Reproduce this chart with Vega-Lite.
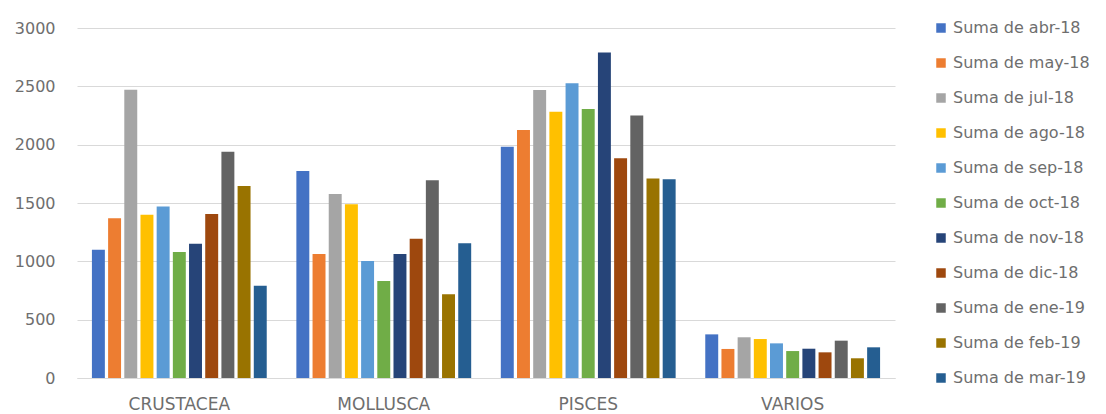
{
  "$schema": "https://vega.github.io/schema/vega-lite/v6.json",
  "width": 818,
  "height": 350,
  "autosize": {"type": "none"},
  "padding": {"left": 77, "top": 28, "right": 211, "bottom": 36},
  "background": "white",
  "config": {
    "view": {"stroke": null},
    "font": "DejaVu Sans"
  },
  "data": {
    "values": [
      {"grupo": "CRUSTACEA", "serie": "Suma de abr-18", "valor": 1100},
      {"grupo": "CRUSTACEA", "serie": "Suma de may-18", "valor": 1370},
      {"grupo": "CRUSTACEA", "serie": "Suma de jul-18", "valor": 2470},
      {"grupo": "CRUSTACEA", "serie": "Suma de ago-18", "valor": 1400},
      {"grupo": "CRUSTACEA", "serie": "Suma de sep-18", "valor": 1470},
      {"grupo": "CRUSTACEA", "serie": "Suma de oct-18", "valor": 1080},
      {"grupo": "CRUSTACEA", "serie": "Suma de nov-18", "valor": 1150},
      {"grupo": "CRUSTACEA", "serie": "Suma de dic-18", "valor": 1405},
      {"grupo": "CRUSTACEA", "serie": "Suma de ene-19", "valor": 1940},
      {"grupo": "CRUSTACEA", "serie": "Suma de feb-19", "valor": 1645},
      {"grupo": "CRUSTACEA", "serie": "Suma de mar-19", "valor": 790},
      {"grupo": "MOLLUSCA", "serie": "Suma de abr-18", "valor": 1775},
      {"grupo": "MOLLUSCA", "serie": "Suma de may-18", "valor": 1063},
      {"grupo": "MOLLUSCA", "serie": "Suma de jul-18", "valor": 1577},
      {"grupo": "MOLLUSCA", "serie": "Suma de ago-18", "valor": 1490},
      {"grupo": "MOLLUSCA", "serie": "Suma de sep-18", "valor": 1003},
      {"grupo": "MOLLUSCA", "serie": "Suma de oct-18", "valor": 831},
      {"grupo": "MOLLUSCA", "serie": "Suma de nov-18", "valor": 1063},
      {"grupo": "MOLLUSCA", "serie": "Suma de dic-18", "valor": 1194},
      {"grupo": "MOLLUSCA", "serie": "Suma de ene-19", "valor": 1694},
      {"grupo": "MOLLUSCA", "serie": "Suma de feb-19", "valor": 717},
      {"grupo": "MOLLUSCA", "serie": "Suma de mar-19", "valor": 1154},
      {"grupo": "PISCES", "serie": "Suma de abr-18", "valor": 1983},
      {"grupo": "PISCES", "serie": "Suma de may-18", "valor": 2126},
      {"grupo": "PISCES", "serie": "Suma de jul-18", "valor": 2469},
      {"grupo": "PISCES", "serie": "Suma de ago-18", "valor": 2283},
      {"grupo": "PISCES", "serie": "Suma de sep-18", "valor": 2526},
      {"grupo": "PISCES", "serie": "Suma de oct-18", "valor": 2306},
      {"grupo": "PISCES", "serie": "Suma de nov-18", "valor": 2791},
      {"grupo": "PISCES", "serie": "Suma de dic-18", "valor": 1883},
      {"grupo": "PISCES", "serie": "Suma de ene-19", "valor": 2249},
      {"grupo": "PISCES", "serie": "Suma de feb-19", "valor": 1711},
      {"grupo": "PISCES", "serie": "Suma de mar-19", "valor": 1703},
      {"grupo": "VARIOS", "serie": "Suma de abr-18", "valor": 374},
      {"grupo": "VARIOS", "serie": "Suma de may-18", "valor": 249},
      {"grupo": "VARIOS", "serie": "Suma de jul-18", "valor": 349},
      {"grupo": "VARIOS", "serie": "Suma de ago-18", "valor": 334},
      {"grupo": "VARIOS", "serie": "Suma de sep-18", "valor": 297},
      {"grupo": "VARIOS", "serie": "Suma de oct-18", "valor": 231},
      {"grupo": "VARIOS", "serie": "Suma de nov-18", "valor": 251},
      {"grupo": "VARIOS", "serie": "Suma de dic-18", "valor": 220},
      {"grupo": "VARIOS", "serie": "Suma de ene-19", "valor": 320},
      {"grupo": "VARIOS", "serie": "Suma de feb-19", "valor": 169},
      {"grupo": "VARIOS", "serie": "Suma de mar-19", "valor": 263}
    ]
  },
  "mark": {"type": "bar"},
  "encoding": {
    "x": {
      "field": "grupo",
      "type": "nominal",
      "sort": null,
      "scale": {"paddingInner": 0.137, "paddingOuter": 0.069},
      "axis": {
        "title": null,
        "labelAngle": 0,
        "ticks": false,
        "domainColor": "#d9d9d9",
        "labelColor": "#6e6e6e",
        "labelFontSize": 17,
        "labelPadding": 18
      }
    },
    "xOffset": {
      "field": "serie",
      "type": "nominal",
      "sort": null,
      "scale": {"paddingInner": 0.2, "paddingOuter": 0.05}
    },
    "y": {
      "field": "valor",
      "type": "quantitative",
      "scale": {"domain": [0, 3000]},
      "axis": {
        "title": null,
        "values": [0, 500, 1000, 1500, 2000, 2500, 3000],
        "format": "d",
        "domain": false,
        "ticks": false,
        "gridColor": "#d9d9d9",
        "labelColor": "#6e6e6e",
        "labelFontSize": 16,
        "labelPadding": 22
      }
    },
    "color": {
      "field": "serie",
      "type": "nominal",
      "sort": null,
      "scale": {
        "domain": ["Suma de abr-18", "Suma de may-18", "Suma de jul-18", "Suma de ago-18", "Suma de sep-18", "Suma de oct-18", "Suma de nov-18", "Suma de dic-18", "Suma de ene-19", "Suma de feb-19", "Suma de mar-19"],
        "range": ["#4472C4", "#ED7D31", "#A5A5A5", "#FFC000", "#5B9BD5", "#70AD47", "#264478", "#9E480E", "#636363", "#997300", "#255E91"]
      },
      "legend": {
        "title": null,
        "orient": "none",
        "legendX": 856,
        "legendY": -8,
        "symbolType": "square",
        "symbolSize": 90,
        "symbolStrokeWidth": 0,
        "labelColor": "#6e6e6e",
        "labelFontSize": 16,
        "labelOffset": 4,
        "rowPadding": 19
      }
    }
  }
}
